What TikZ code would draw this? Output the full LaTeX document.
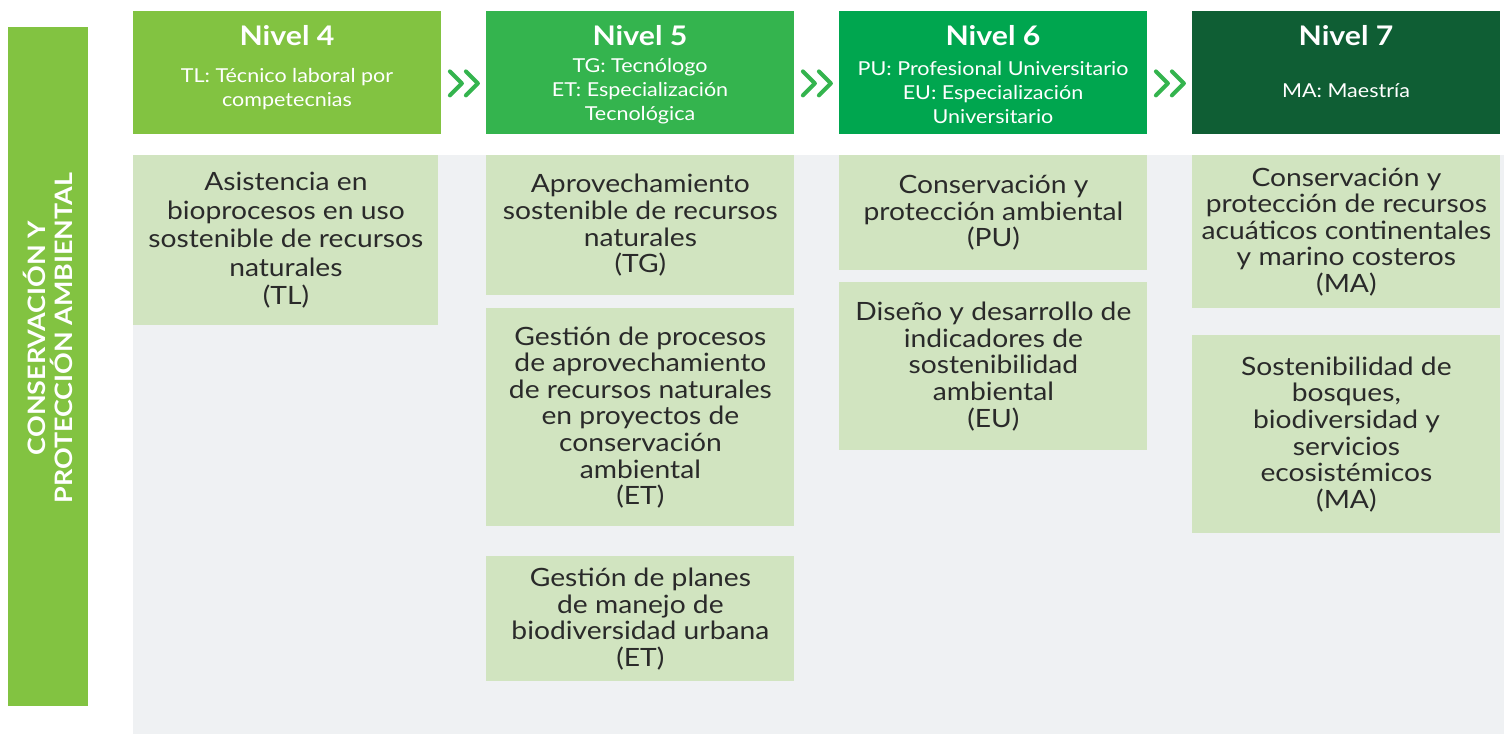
\documentclass[tikz,border=0pt]{standalone}
\usepackage{fontspec}
\setmainfont{Lato}[FakeStretch=1.12]
\usetikzlibrary{calc}
\definecolor{nivelcuatro}{HTML}{82C341}
\definecolor{nivelcinco}{HTML}{34B44E}
\definecolor{nivelseis}{HTML}{00A64F}
\definecolor{nivelsiete}{HTML}{0F5E34}
\definecolor{cajaverde}{HTML}{D1E4C0}
\definecolor{fondogris}{HTML}{EFF1F3}
\definecolor{textogris}{HTML}{2A2A2A}

\begin{document}
\begin{tikzpicture}[x=0.5pt,y=-0.5pt,inner sep=0pt,line join=round]
  \tikzstyle{cabecera}=[minimum width=154pt,minimum height=61.5pt,anchor=north west]
  \tikzstyle{titulo}=[text=white,font=\fontsize{13.5}{14}\selectfont\bfseries]
  \tikzstyle{subtitulo}=[text=white,align=center,font=\fontsize{9.6}{12}\selectfont]
  \tikzstyle{caja}=[fill=cajaverde,minimum width=154pt,anchor=north west,
                    align=center,text=textogris,font=\fontsize{12.6}{13.3}\selectfont]
  \tikzstyle{chevron}=[draw=nivelcinco,line width=2pt,line cap=round]

  \useasboundingbox (0,0) rectangle (1508,734);
  \fill[fondogris] (133,155) rectangle (1504,734);

  % barra lateral
  \node[fill=nivelcuatro,minimum width=40pt,minimum height=339.5pt,anchor=north west] (barra) at (8,27) {};
  \node[rotate=90,text=white,align=center,font=\fontsize{12}{13.6}\selectfont\bfseries] (area) at (48,338)
    {CONSERVACIÓN Y\\PROTECCIÓN AMBIENTAL};

  % cabeceras
  \node[cabecera,fill=nivelcuatro] (h4) at (133,11) {};
  \node[cabecera,fill=nivelcinco]  (h5) at (486,11) {};
  \node[cabecera,fill=nivelseis]   (h6) at (839,11) {};
  \node[cabecera,fill=nivelsiete]  (h7) at (1192,11) {};

  \node[titulo] (t4) at (287,36)  {Nivel 4};
  \node[titulo] (t5) at (640,36)  {Nivel 5};
  \node[titulo] (t6) at (993,36)  {Nivel 6};
  \node[titulo] (t7) at (1346,36) {Nivel 7};

  \node[subtitulo] (s4) at (287,89)  {TL: Técnico laboral por\\competecnias};
  \node[subtitulo] (s5) at (640,91)  {TG: Tecnólogo\\ET: Especialización\\Tecnológica};
  \node[subtitulo] (s6) at (993,93)  {PU: Profesional Universitario\\EU: Especialización\\Universitario};
  \node[subtitulo] (s7) at (1346,91) {MA: Maestría};

  \foreach \a/\b in {h4/h5,h5/h6,h6/h7}
    \draw[chevron] ($(\a.east)!0.5!(\b.west)+(0,10.5)$) ++(-14,-12) -- ++(12,12) -- ++(-12,12)
                   ++(16,-24) -- ++(12,12) -- ++(-12,12);

  % Nivel 4
  \node[caja,minimum width=152.5pt,minimum height=85pt,font=\fontsize{12.6}{14.3}\selectfont] (c41) at (133,155)
    {Asistencia en\\bioprocesos en uso\\sostenible de recursos\\naturales\\(TL)};

  % Nivel 5
  \node[caja,minimum height=70pt] (c51) at (486,155)
    {Aprovechamiento\\sostenible de recursos\\naturales\\(TG)};
  \node[caja,minimum height=109pt] (c52) at (486,308)
    {Gestión de procesos\\de aprovechamiento\\de recursos naturales\\en proyectos de\\conservación\\ambiental\\(ET)};
  \node[caja,minimum height=62.5pt] (c53) at (486,556)
    {Gestión de planes\\de manejo de\\biodiversidad urbana\\(ET)};

  % Nivel 6
  \node[caja,minimum height=57.5pt] (c61) at (839,155)
    {Conservación y\\protección ambiental\\(PU)};
  \node[caja,minimum height=84pt] (c62) at (839,282)
    {Diseño y desarrollo de\\indicadores de\\sostenibilidad\\ambiental\\(EU)};

  % Nivel 7
  \node[caja,minimum height=76.5pt] (c71) at (1192,155)
    {Conservación y\\protección de recursos\\acuáticos continentales\\y marino costeros\\(MA)};
  \node[caja,minimum height=99pt] (c72) at (1192,335)
    {Sostenibilidad de\\bosques,\\biodiversidad y\\servicios\\ecosistémicos\\(MA)};
\end{tikzpicture}
\end{document}
